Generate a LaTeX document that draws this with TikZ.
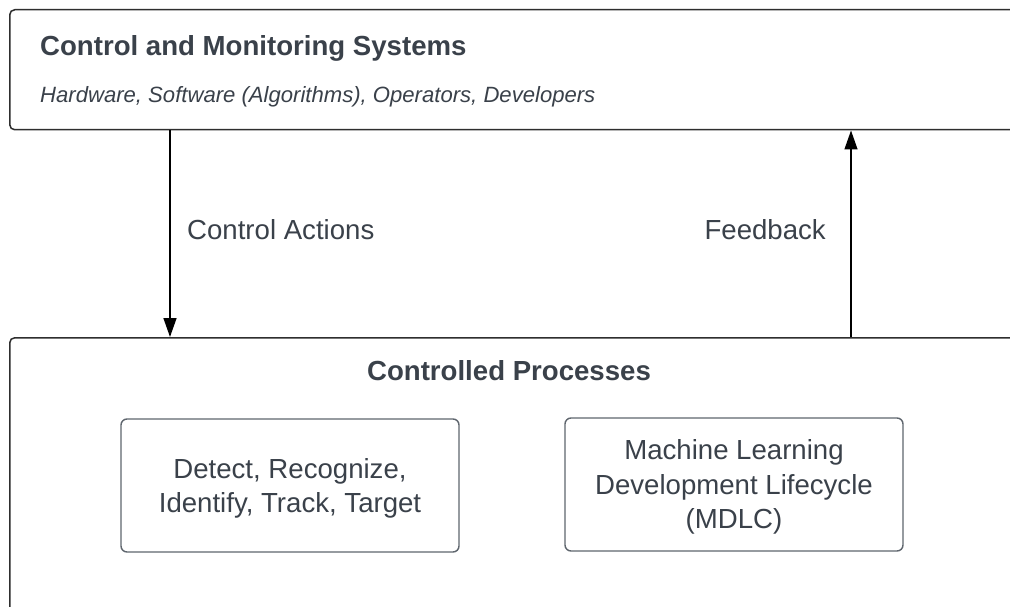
\documentclass[tikz,border=0pt]{standalone}
\usepackage{fontspec}
\setmainfont{Liberation Sans}
\usetikzlibrary{arrows.meta,calc}
\definecolor{inktext}{HTML}{3A414A}
\definecolor{outerline}{HTML}{2E2E2E}
\definecolor{innerline}{HTML}{5F666E}
\tikzset{
  outerbox/.style={draw=outerline, line width=1.5pt, rounded corners=5pt, fill=white, inner sep=0pt},
  innerbox/.style={draw=innerline, line width=1.4pt, rounded corners=6pt, inner sep=0pt,
    minimum width=338pt, minimum height=133pt},
  boxtext/.style={inner sep=0pt, align=center, text=inktext,
    font=\fontsize{27.6}{34.5}\selectfont},
  label/.style={inner sep=0pt, text=inktext, font=\fontsize{27.6}{32}\selectfont},
  heading/.style={inner sep=0pt, text=inktext, font=\fontsize{27.6}{32}\selectfont\bfseries},
  flow/.style={draw=black, line width=1.4pt, -{Triangle[length=19pt,width=13pt]}}
}
\begin{document}
\begin{tikzpicture}[x=1pt,y=-1pt]
  \useasboundingbox (0,0) rectangle (1010,607);
  \clip (0,0) rectangle (1010,607);
  \fill[white] (0,0) rectangle (1010,607);

  % upper block: the controller
  \node[outerbox, anchor=north west, minimum width=1100pt, minimum height=120pt] (cms) at (9,9) {};
  \node[heading, anchor=base west] (cmsTitle) at (40,56) {Control and Monitoring Systems};
  \node[inner sep=0pt, text=inktext, font=\fontsize{22.1}{26}\selectfont\itshape, anchor=base west]
    (cmsSub) at (40,103) {Hardware, Software (Algorithms), Operators, Developers};

  % lower block: the controlled process
  \node[outerbox, anchor=north west, minimum width=1100pt, minimum height=400pt] (cp) at (9,337) {};
  \node[heading, anchor=base] (cpTitle) at (509,380) {Controlled Processes};

  \node[innerbox] (drit) at (290,485.5) {};
  \node[boxtext] (dritText) at ($(drit.center)+(0,3)$) {Detect, Recognize,\\Identify, Track, Target};
  \node[innerbox] (mdlc) at (734,484.5) {};
  \node[boxtext] (mdlcText) at ($(mdlc.center)+(0,2.5)$) {Machine Learning\\Development Lifecycle\\(MDLC)};

  % control loop connectors
  \coordinate (actTop) at ($(cms.south west)+(161,0)$);
  \coordinate (actBot) at ($(cp.north west)+(161,0)$);
  \coordinate (fbBot) at ($(cp.north west)+(842,0)$);
  \coordinate (fbTop) at ($(cms.south west)+(842,0)$);
  \draw[flow] (actTop) -- (actBot);
  \draw[flow] (fbBot) -- (fbTop);

  \node[label, anchor=base west] (actLabel) at (187,240) {Control Actions};
  \node[label, anchor=base east] (fbLabel) at (826,240) {Feedback};
\end{tikzpicture}
\end{document}
